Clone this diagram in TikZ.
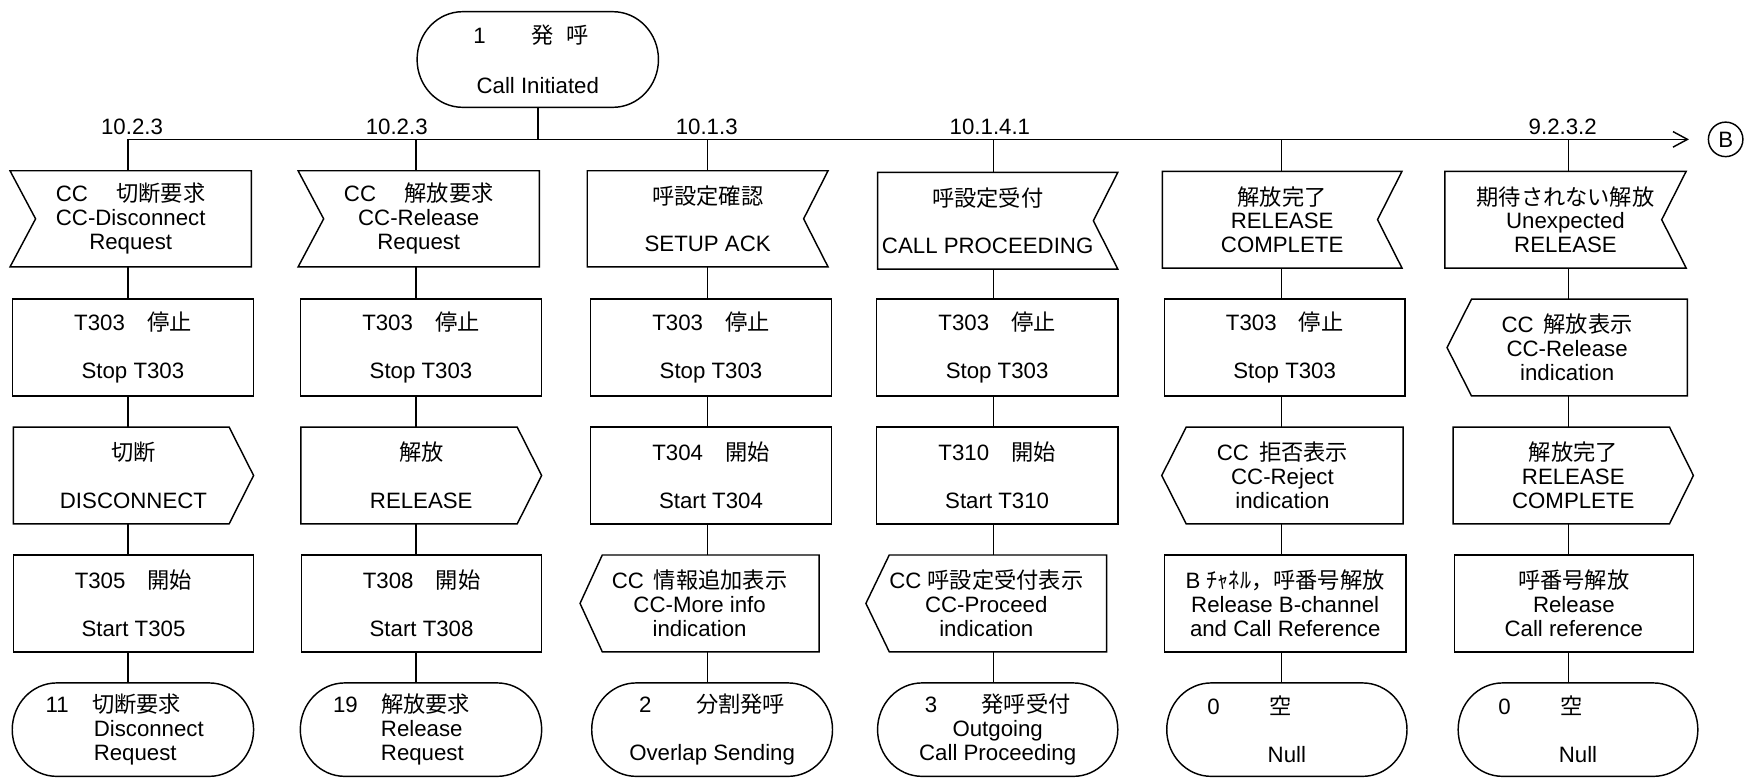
\documentclass[tikz,border=0pt]{standalone}
\usepackage{fontspec}
\setmainfont{Liberation Sans}
\newfontfamily\jp{Noto Sans CJK JP}
\usetikzlibrary{arrows.meta,calc}
\newcommand\J[1]{{\jp #1}}
\newcommand\fs{\fontsize{20}{21.5}\selectfont}
\tikzset{
  ol/.style={line width=1.3pt},
  ln/.style={line width=1.3pt},
  bx/.style={rectangle, draw=none, inner sep=0pt, outer sep=0pt},
  tx/.style={inner sep=0pt, outer sep=0pt, font=\fs},
}
% shape node + text node: [text xshift]{name}{x1}{x2}{y1}{y2}{text}
\newcommand\mk[7][0]{%
  \node[bx, minimum width={#4-#3}, minimum height={#6-#5}] (#2) at ({(#3+#4)/2},{-(#5+#6)/2}) {};
  \node[tx, align=center] (#2t) at ([xshift=#1pt]#2.center) {#7};}
\newcommand\drect[1]{\draw[ol] (#1.north west) rectangle (#1.south east);}
\newcommand\dinL[2]{\draw[ol] (#1.north west) -- (#1.north east) -- (#1.south east) -- (#1.south west) -- ([xshift=#2pt]#1.west) -- cycle;}
\newcommand\dinR[2]{\draw[ol] (#1.north west) -- (#1.north east) -- ([xshift=-#2pt]#1.east) -- (#1.south east) -- (#1.south west) -- cycle;}
\newcommand\doutR[2]{\draw[ol] (#1.north west) -- ([xshift=-#2pt]#1.north east) -- (#1.east) -- ([xshift=-#2pt]#1.south east) -- (#1.south west) -- cycle;}
\newcommand\doutL[2]{\draw[ol] ([xshift=#2pt]#1.north west) -- (#1.north east) -- (#1.south east) -- ([xshift=#2pt]#1.south west) -- (#1.west) -- cycle;}
\newcommand\dst[3]{\draw[ol] ([xshift=#2pt]#1.north west) -- ([xshift=-#2pt]#1.north east)
  arc[start angle=90,end angle=-90,x radius=#2,y radius=#3] -- ([xshift=#2pt]#1.south west)
  arc[start angle=270,end angle=90,x radius=#2,y radius=#3] -- cycle;}
\begin{document}
\begin{tikzpicture}[x=1pt,y=1pt]
\useasboundingbox (0,0) rectangle (1568,-699);

% top state
\mk{s}{375}{592}{10.5}{96.5}{\makebox[116pt][l]{1\hspace{41pt}\J{発}\hspace{12pt}\J{呼}}\\[23.5pt]Call Initiated}
\dst{s}{41}{43}

% bus
\coordinate (k1) at (115,-125.3);
\coordinate (k2) at (374,-125.3);
\coordinate (k3) at (636,-125.3);
\coordinate (k4) at (893,-125.3);
\coordinate (k5) at (1152,-125.3);
\coordinate (k6) at (1410,-125.3);
\coordinate (kend) at (1518.5,-125.3);
\draw[ln] (s.south) -- (s.south |- k1);
\draw[ln, -{Straight Barb[length=13pt,width=14pt]}] (k1) -- (kend);
\node[draw, circle, ol, minimum size=31pt, inner sep=0pt, font=\fs] (B) at (1551.5,-125.3) {B};

\node[tx, anchor=base] (l1) at (118.7,-121) {10.2.3};
\node[tx, anchor=base] (l2) at (356.7,-121) {10.2.3};
\node[tx, anchor=base] (l3) at (635.4,-121) {10.1.3};
\node[tx, anchor=base] (l4) at (890,-121) {10.1.4.1};
\node[tx, anchor=base] (l6) at (1405,-121) {9.2.3.2};

% column 1
\mk{a1}{9}{226}{153.5}{240}{CC \J{　切断要求}\\CC-Disconnect\\Request}\dinL{a1}{23}
\mk{a2}{11}{228}{269}{356}{T303\J{　停止}\\[21.5pt]Stop T303}\drect{a2}
\mk{a3}{12}{228}{384}{471}{\J{切断}\\[21.5pt]DISCONNECT}\doutR{a3}{22}
\mk{a4}{12}{228}{499}{586}{T305\J{　開始}\\[21.5pt]Start T305}\drect{a4}
\mk{a5}{11}{228}{614}{698}{\makebox[157pt][l]{11\hspace{21pt}\J{切断要求}}\\\makebox[157pt][l]{\hspace{43.3pt}Disconnect}\\\makebox[157pt][l]{\hspace{43.3pt}Request}}\dst{a5}{40}{42}

% column 2
\mk{b1}{268}{485}{153.5}{240}{CC \J{　解放要求}\\CC-Release\\Request}\dinL{b1}{23}
\mk{b2}{270}{487}{269}{356}{T303\J{　停止}\\[21.5pt]Stop T303}\drect{b2}
\mk{b3}{270.5}{487}{384}{471}{\J{解放}\\[21.5pt]RELEASE}\doutR{b3}{22}
\mk{b4}{271}{487}{499}{586}{T308\J{　開始}\\[21.5pt]Start T308}\drect{b4}
\mk{b5}{270}{487}{614}{698}{\makebox[158pt][l]{19\hspace{21pt}\J{解放要求}}\\\makebox[158pt][l]{\hspace{43pt}Release}\\\makebox[158pt][l]{\hspace{43pt}Request}}\dst{b5}{40}{42}

% column 3
\mk{c1}{528}{744.5}{153.5}{240}{\J{呼設定確認}\\[21.5pt]SETUP ACK}\dinR{c1}{22}
\mk{c2}{531}{747.5}{269}{356}{T303\J{　停止}\\[21.5pt]Stop T303}\drect{c2}
\mk{c3}{531}{747.5}{384}{471}{T304\J{　開始}\\[21.5pt]Start T304}\drect{c3}
\mk{c4}{521.5}{736.5}{499}{586}{CC\hspace{0.45em}\J{情報追加表示}\\CC-More info\\indication}\doutL{c4}{20}
\mk{c5}{532}{748.5}{614}{698}{2\J{　　分割発呼}\\[21.5pt]Overlap Sending}\dst{c5}{40}{42}

% column 4
\mk[-9]{d1}{789}{1005}{155}{242}{\J{呼設定受付}\\[21.5pt]CALL PROCEEDING}\dinR{d1}{22}
\mk{d2}{788}{1005}{269}{356}{T303\J{　停止}\\[21.5pt]Stop T303}\drect{d2}
\mk{d3}{788}{1005}{384}{471}{T310\J{　開始}\\[21.5pt]Start T310}\drect{d3}
\mk{d4}{778.5}{995}{499}{586}{CC \J{呼設定受付表示}\\CC-Proceed\\indication}\doutL{d4}{21}
\mk{d5}{789}{1005}{614}{698}{3\J{　　発呼受付}\\Outgoing\\Call Proceeding}\dst{d5}{40}{42}

% column 5
\mk{e1}{1045}{1260.5}{154}{241}{\J{解放完了}\\RELEASE\\COMPLETE}\dinR{e1}{22}
\mk{e2}{1047}{1263}{269}{356}{T303\J{　停止}\\[21.5pt]Stop T303}\drect{e2}
\mk{e3}{1044.5}{1261.5}{384}{471}{CC\hspace{0.45em}\J{拒否表示}\\CC-Reject\\indication}\doutL{e3}{22}
\mk{e4}{1047}{1264}{499}{586}{B \J{ﾁｬﾈﾙ，呼番号解放}\\Release B-channel\\and Call Reference}\drect{e4}
\mk{e5}{1049}{1265}{614}{698}{\makebox[143pt][l]{0\hspace{45pt}\J{空}}\\[21.5pt]Null}\dst{e5}{40}{42}

% column 6
\mk{f1}{1299}{1516}{154}{241}{\J{期待されない解放}\\Unexpected\\RELEASE}\dinR{f1}{22}
\mk{f2}{1301}{1517}{269}{356}{CC\hspace{0.45em}\J{解放表示}\\CC-Release\\indication}\doutL{f2}{22}
\mk{f3}{1306.5}{1522.5}{384}{471}{\J{解放完了}\\RELEASE\\COMPLETE}\doutR{f3}{21.5}
\mk{f4}{1307.5}{1522.5}{499}{586}{\J{呼番号解放}\\Release\\Call reference}\drect{f4}
\mk{f5}{1311}{1526.5}{614}{698}{\makebox[143pt][l]{0\hspace{45pt}\J{空}}\\[21.5pt]Null}\dst{f5}{40}{42}

% vertical connectors
\foreach \c/\k in {a/k1,b/k2,c/k3,d/k4,e/k5,f/k6}{
  \draw[ln] (\k) -- (\k |- \c1.north);
  \foreach \i/\j in {1/2,2/3,3/4,4/5}
    \draw[ln] (\k |- \c\i.south) -- (\k |- \c\j.north);
}
\end{tikzpicture}
\end{document}
